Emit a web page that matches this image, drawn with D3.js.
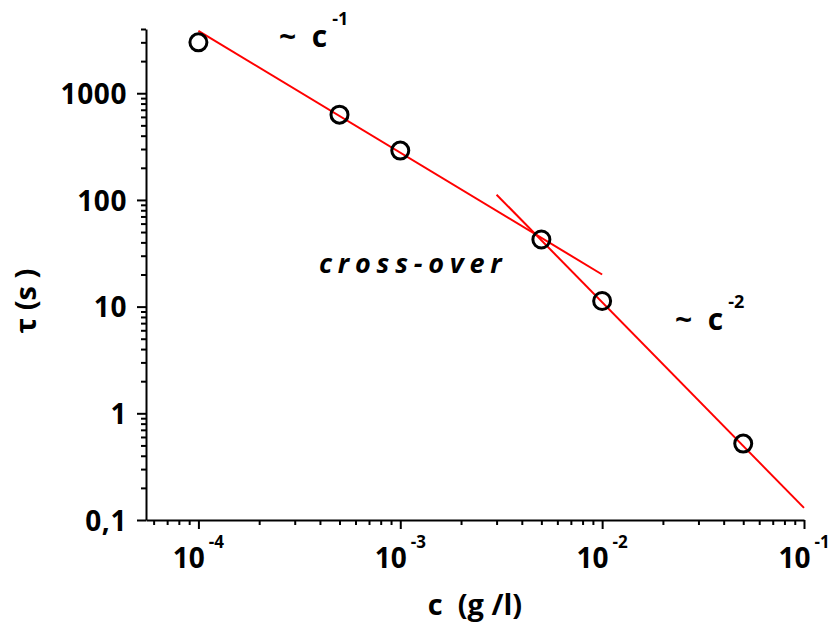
<!DOCTYPE html>
<html>
<head>
<meta charset="utf-8">
<script src="https://cdn.jsdelivr.net/npm/d3@7"></script>
<style>
  body { margin: 0; background: #fff; }
  text { font-family: "Open Sans", "DejaVu Sans", sans-serif; font-weight: 700; fill: #000; }
</style>
</head>
<body>
<div id="chart"></div>
<script>
// measured points
const concentrations = [1e-4, 5e-4, 1e-3, 5e-3, 1e-2, 5e-2];
const tauValues = [3000, 630, 290, 42.6, 11.3, 0.52];

// fitted power laws (end points)
const fit1C = [1e-4, 1e-2];
const fit1Tau = [3840, 20];
const fit2C = [3e-3, 0.1];
const fit2Tau = [112, 0.13];

// tick labels
const yTickValues = [0.1, 1, 10, 100, 1000];
const yTickLabels = ["0,1", "1", "10", "100", "1000"];
const xTickValues = [1e-4, 1e-3, 1e-2, 1e-1];
const xTickExponents = ["-4", "-3", "-2", "-1"];

var width = 829, height = 624;
var margin = { top: 29, right: 25, bottom: 104, left: 146 };

var svg = d3.select("#chart")
    .append("svg")
    .attr("width", width)
    .attr("height", height);

var x = d3.scaleLog()
    .domain([5.5e-5, 0.1])
    .range([margin.left, width - margin.right]);
var y = d3.scaleLog()
    .domain([0.1, 4000])
    .range([height - margin.bottom, margin.top]);

// minor ticks 2..9 per decade, kept inside the domain
function minorTicks(scale, k0, k1) {
    let out = [];
    for (let k = k0; k <= k1; k++) {
        for (let m = 2; m <= 9; m++) {
            let v = m * Math.pow(10, k);
            let d = scale.domain();
            if (v >= d[0] * 0.9999 && v <= d[1] * 1.0001) out.push(v);
        }
    }
    return out;
}

var x0 = height - margin.bottom;

// x axis minor
svg.append("g")
    .attr("transform", "translate(0," + x0 + ")")
    .call(d3.axisBottom(x).tickValues(minorTicks(x, -5, -2)).tickSize(5).tickSizeOuter(0).tickFormat(""))
    .call(g => g.select(".domain").remove());
// x axis major
var xAxisG = svg.append("g")
    .attr("transform", "translate(0," + x0 + ")")
    .call(d3.axisBottom(x).tickValues(xTickValues).tickSize(9).tickSizeOuter(0).tickFormat(""));

// y axis minor
svg.append("g")
    .attr("transform", "translate(" + margin.left + ",0)")
    .call(d3.axisLeft(y).tickValues(minorTicks(y, -1, 3)).tickSize(5).tickSizeOuter(0).tickFormat(""))
    .call(g => g.select(".domain").remove());
// y axis major
var yAxisG = svg.append("g")
    .attr("transform", "translate(" + margin.left + ",0)")
    .call(d3.axisLeft(y).tickValues(yTickValues).tickSize(9).tickSizeOuter(0).tickPadding(10)
        .tickFormat((d, i) => yTickLabels[i]));

svg.selectAll(".domain, .tick line")
    .attr("stroke", "#000")
    .attr("stroke-width", 2);
yAxisG.selectAll(".tick text")
    .attr("font-size", 28)
    .attr("letter-spacing", 0.6)
    .attr("dy", "0.36em");

// x tick labels 10^n
xTickValues.forEach((v, i) => {
    let t = svg.append("text")
        .attr("x", x(v))
        .attr("y", 568)
        .attr("text-anchor", "middle")
        .attr("font-size", 28);
    t.append("tspan").text("10");
    t.append("tspan")
        .attr("font-size", 17)
        .attr("dx", 4)
        .attr("dy", -20)
        .text(xTickExponents[i]);
});

// axis titles
svg.append("text")
    .attr("x", (margin.left + width - margin.right) / 2)
    .attr("y", 615)
    .attr("text-anchor", "middle")
    .attr("font-size", 29)
    .style("white-space", "pre")
    .text("c  (g /l)");

svg.append("text")
    .attr("transform", "translate(36,301) rotate(-90)")
    .attr("text-anchor", "middle")
    .attr("font-size", 29)
    .style("white-space", "pre")
    .text("τ (s )");

// fit lines
var line = d3.line()
    .x(d => x(d[0]))
    .y(d => y(d[1]));

svg.append("path")
    .datum(d3.zip(fit1C, fit1Tau))
    .attr("d", line)
    .attr("fill", "none")
    .attr("stroke", "#ff0000")
    .attr("stroke-width", 2);
svg.append("path")
    .datum(d3.zip(fit2C, fit2Tau))
    .attr("d", line)
    .attr("fill", "none")
    .attr("stroke", "#ff0000")
    .attr("stroke-width", 2);

// data points
svg.selectAll(".pt")
    .data(d3.zip(concentrations, tauValues))
    .enter()
    .append("circle")
    .attr("class", "pt")
    .attr("cx", d => x(d[0]))
    .attr("cy", d => y(d[1]))
    .attr("r", 8.5)
    .attr("fill", "none")
    .attr("stroke", "#000")
    .attr("stroke-width", 3);

// annotations
function powerLabel(px, py, exp) {
    let t = svg.append("text")
        .attr("x", px)
        .attr("y", py)
        .attr("font-size", 30)
        .style("white-space", "pre");
    t.append("tspan").text("~  c");
    t.append("tspan")
        .attr("font-size", 18)
        .attr("dx", 5)
        .attr("dy", -22)
        .text(exp);
}
powerLabel(279, 47, "-1");
powerLabel(675, 330, "-2");

svg.append("text")
    .attr("x", 319)
    .attr("y", 273)
    .attr("font-size", 27)
    .attr("font-style", "italic")
    .attr("letter-spacing", 5.8)
    .text("cross-over");
</script>
</body>
</html>
